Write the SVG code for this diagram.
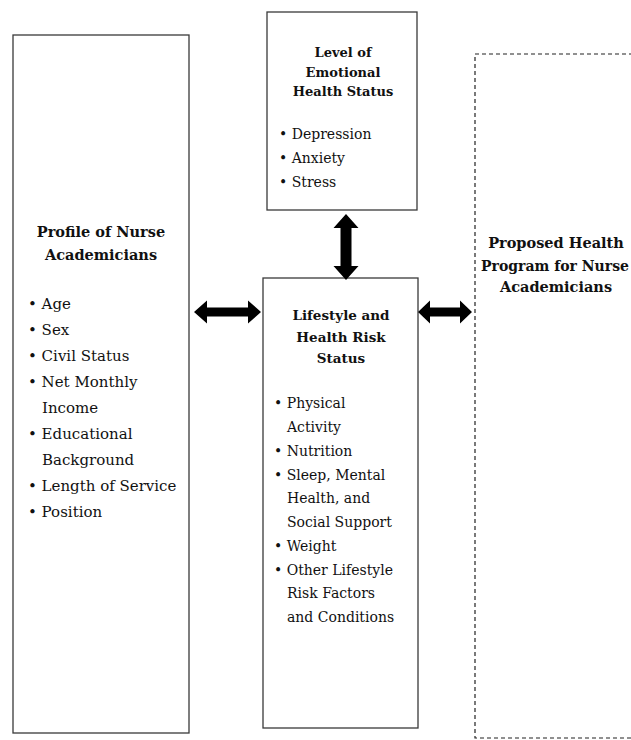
<svg xmlns="http://www.w3.org/2000/svg" width="631" height="740" viewBox="0 0 631 740">
<style>
.box{fill:#fff;stroke:#3a3a3a;stroke-width:1.3}
.dash{fill:#fff;stroke:#222;stroke-width:1.2;stroke-dasharray:4 3}
.t{font-family:"DejaVu Serif","Liberation Serif",serif;fill:#111;font-weight:bold;font-size:13.5px;text-anchor:middle}
.tl{font-size:14.5px}
.ts{font-size:13px}
.b{font-family:"DejaVu Serif","Liberation Serif",serif;fill:#111;font-size:14px}
.bl{font-family:"DejaVu Serif","Liberation Serif",serif;fill:#111;font-size:15px}
.arr{fill:#000}
</style>
<rect width="631" height="740" fill="#fff"/>
<g id="profile">
<rect class="box" x="13" y="35" width="176" height="698"/>
<text class="t tl" x="101" y="237">Profile of Nurse</text>
<text class="t tl" x="101" y="260">Academicians</text>
<g class="bl">
<text x="28" y="309">• Age</text>
<text x="28" y="335">• Sex</text>
<text x="28" y="361">• Civil Status</text>
<text x="28" y="387">• Net Monthly</text>
<text x="42" y="413">Income</text>
<text x="28" y="439">• Educational</text>
<text x="42" y="465">Background</text>
<text x="28" y="491">• Length of Service</text>
<text x="28" y="517">• Position</text>
</g>
</g>
<g id="emotional">
<rect class="box" x="267" y="12" width="150" height="198"/>
<text class="t ts" x="343" y="57">Level of</text>
<text class="t ts" x="343" y="77">Emotional</text>
<text class="t ts" x="343" y="96">Health Status</text>
<g class="b">
<text x="279" y="139">• Depression</text>
<text x="279" y="163">• Anxiety</text>
<text x="279" y="187">• Stress</text>
</g>
</g>
<g id="lifestyle">
<rect class="box" x="263" y="278" width="155" height="450"/>
<text class="t" x="341" y="320">Lifestyle and</text>
<text class="t" x="341" y="342">Health Risk</text>
<text class="t" x="341" y="363">Status</text>
<g class="b">
<text x="274" y="408">• Physical</text>
<text x="287" y="432">Activity</text>
<text x="274" y="456">• Nutrition</text>
<text x="274" y="480">• Sleep, Mental</text>
<text x="287" y="503">Health, and</text>
<text x="287" y="527">Social Support</text>
<text x="274" y="551">• Weight</text>
<text x="274" y="575">• Other Lifestyle</text>
<text x="287" y="598">Risk Factors</text>
<text x="287" y="622">and Conditions</text>
</g>
</g>
<g id="program">
<rect class="dash" x="475" y="54" width="170" height="684"/>
<text class="t tl" x="556" y="248">Proposed Health</text>
<text class="t" x="555" y="271" style="font-size:14px">Program for Nurse</text>
<text class="t tl" x="556" y="292">Academicians</text>
</g>
<g id="connectors">
<polygon class="arr" points="194,312 207,300.5 207,307.5 248,307.5 248,300.5 261,312 248,323.5 248,316.5 207,316.5 207,323.5"/>
<polygon class="arr" points="418,312 430,300.5 430,307.5 460,307.5 460,300.5 472,312 460,323.5 460,316.5 430,316.5 430,323.5"/>
<polygon class="arr" points="346,214 358.5,228 351.5,228 351.5,266 358.5,266 346,280 333.5,266 340.5,266 340.5,228 333.5,228"/>
</g>
</svg>
